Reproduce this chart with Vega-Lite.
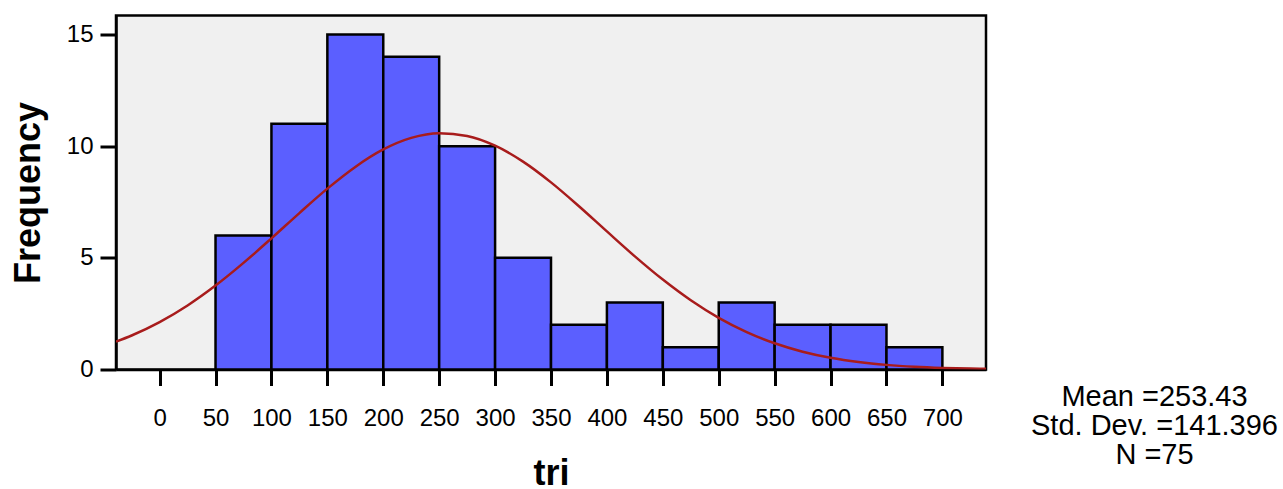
{
  "$schema": "https://vega.github.io/schema/vega-lite/v6.json",
  "width": 870,
  "height": 354,
  "autosize": "none",
  "padding": {"left": 116, "top": 15.5, "right": 297, "bottom": 119.5},
  "background": "white",
  "config": {
    "view": {"fill": "#f0f0f0", "stroke": "#000000", "strokeWidth": 2.5},
    "font": "Liberation Sans"
  },
  "datasets": {
    "bins": [
      {"bin_start": 50, "bin_end": 100, "count": 6},
      {"bin_start": 100, "bin_end": 150, "count": 11},
      {"bin_start": 150, "bin_end": 200, "count": 15},
      {"bin_start": 200, "bin_end": 250, "count": 14},
      {"bin_start": 250, "bin_end": 300, "count": 10},
      {"bin_start": 300, "bin_end": 350, "count": 5},
      {"bin_start": 350, "bin_end": 400, "count": 2},
      {"bin_start": 400, "bin_end": 450, "count": 3},
      {"bin_start": 450, "bin_end": 500, "count": 1},
      {"bin_start": 500, "bin_end": 550, "count": 3},
      {"bin_start": 550, "bin_end": 600, "count": 2},
      {"bin_start": 600, "bin_end": 650, "count": 2},
      {"bin_start": 650, "bin_end": 700, "count": 1}
    ],
    "curve": [
      {"tri": -39, "density": 1.246},
      {"tri": -25, "density": 1.522},
      {"tri": 0, "density": 2.122},
      {"tri": 25, "density": 2.868},
      {"tri": 50, "density": 3.758},
      {"tri": 75, "density": 4.773},
      {"tri": 100, "density": 5.872},
      {"tri": 125, "density": 7.004},
      {"tri": 150, "density": 8.097},
      {"tri": 175, "density": 9.071},
      {"tri": 200, "density": 9.851},
      {"tri": 225, "density": 10.369},
      {"tri": 250, "density": 10.577},
      {"tri": 275, "density": 10.457},
      {"tri": 300, "density": 10.021},
      {"tri": 325, "density": 9.308},
      {"tri": 350, "density": 8.379},
      {"tri": 375, "density": 7.311},
      {"tri": 400, "density": 6.182},
      {"tri": 425, "density": 5.067},
      {"tri": 450, "density": 4.026},
      {"tri": 475, "density": 3.1},
      {"tri": 500, "density": 2.313},
      {"tri": 525, "density": 1.673},
      {"tri": 550, "density": 1.173},
      {"tri": 575, "density": 0.797},
      {"tri": 600, "density": 0.525},
      {"tri": 625, "density": 0.335},
      {"tri": 650, "density": 0.207},
      {"tri": 675, "density": 0.124},
      {"tri": 700, "density": 0.072},
      {"tri": 725, "density": 0.041},
      {"tri": 739, "density": 0.029}
    ]
  },
  "title": {
    "text": ["Mean =253.43", "Std. Dev. =141.396", "N =75"],
    "orient": "top",
    "anchor": "end",
    "frame": "group",
    "align": "center",
    "baseline": "top",
    "dx": 168.5,
    "dy": 454,
    "offset": 0,
    "fontSize": 29,
    "fontWeight": "normal",
    "font": "Liberation Sans",
    "color": "#000000",
    "lineHeight": 29
  },
  "layer": [
    {
      "data": {"name": "bins"},
      "mark": {"type": "rect", "fill": "#5b5fff", "stroke": "#000000", "strokeWidth": 2.5},
      "encoding": {
        "x": {
          "field": "bin_start",
          "type": "quantitative",
          "title": "tri",
          "scale": {"domain": [-39, 739], "nice": false, "zero": false},
          "axis": {
            "values": [0, 50, 100, 150, 200, 250, 300, 350, 400, 450, 500, 550, 600, 650, 700],
            "format": "d",
            "grid": false,
            "labelFontSize": 24,
            "labelColor": "#000000",
            "labelPadding": 21,
            "labelFlush": false,
            "labelOverlap": false,
            "tickColor": "#000000",
            "tickSize": 16,
            "tickWidth": 3,
            "domainColor": "#000000",
            "domainWidth": 2.5,
            "titleFontSize": 36,
            "titleFontWeight": "bold",
            "titleColor": "#000000",
            "titlePadding": 26
          }
        },
        "x2": {"field": "bin_end"},
        "y": {
          "field": "count",
          "type": "quantitative",
          "title": "Frequency",
          "scale": {"domain": [0, 15.85], "nice": false},
          "axis": {
            "values": [0, 5, 10, 15],
            "format": "d",
            "grid": false,
            "labelFontSize": 24,
            "labelColor": "#000000",
            "labelPadding": 7,
            "labelFlush": false,
            "labelOverlap": false,
            "tickColor": "#000000",
            "tickSize": 16,
            "tickWidth": 3,
            "domainColor": "#000000",
            "domainWidth": 2.5,
            "titleFontSize": 36,
            "titleFontWeight": "bold",
            "titleColor": "#000000",
            "titlePadding": 19
          }
        },
        "y2": {"datum": 0}
      }
    },
    {
      "data": {"name": "curve"},
      "mark": {"type": "line", "color": "#a81c1c", "strokeWidth": 2.5, "clip": true, "interpolate": "monotone"},
      "encoding": {
        "x": {"field": "tri", "type": "quantitative", "title": "tri"},
        "y": {"field": "density", "type": "quantitative", "title": "Frequency"}
      }
    }
  ]
}
